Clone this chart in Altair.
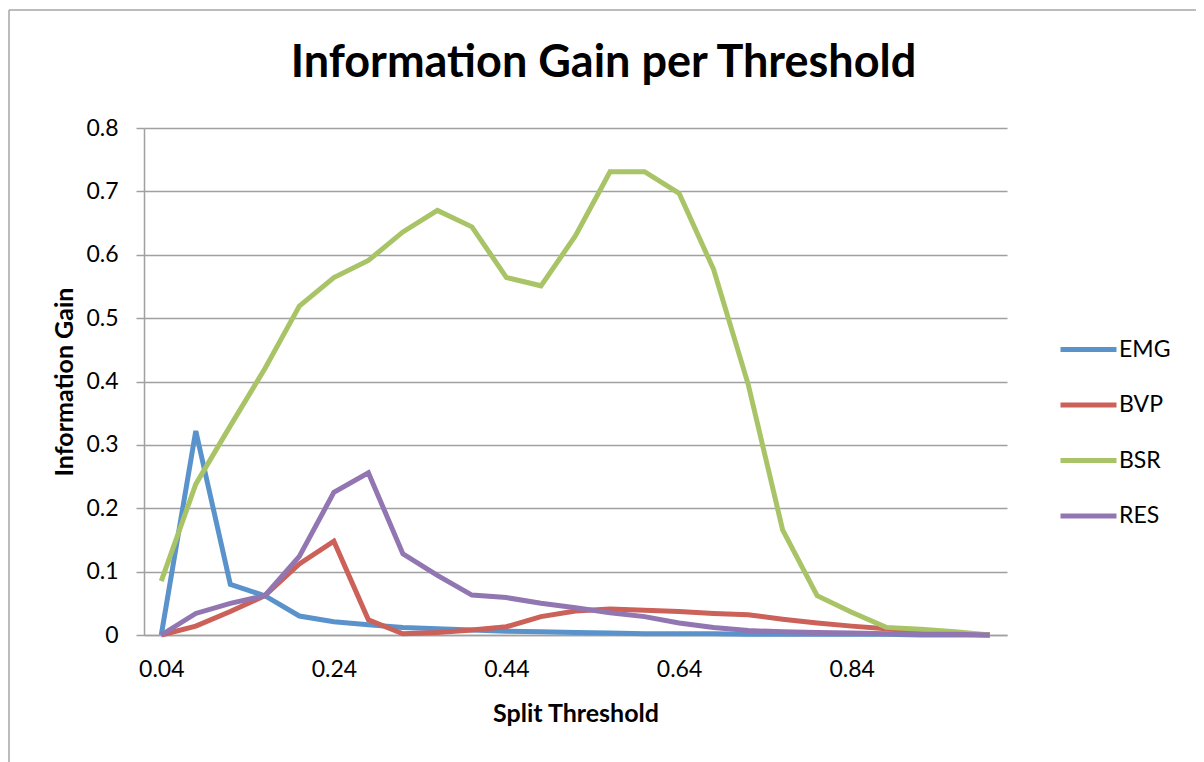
import altair as alt
import pandas as pd

thresholds = ["0.04", "0.08", "0.12", "0.16", "0.20", "0.24", "0.28", "0.32", "0.36",
              "0.40", "0.44", "0.48", "0.52", "0.56", "0.60", "0.64", "0.68", "0.72",
              "0.76", "0.80", "0.84", "0.88", "0.92", "0.96", "1.00"]
tick_labels = ["0.04", "0.24", "0.44", "0.64", "0.84"]

emg = [0.0, 0.322, 0.080, 0.062, 0.030, 0.021, 0.016, 0.012, 0.010, 0.008, 0.006,
       0.005, 0.004, 0.003, 0.002, 0.002, 0.002, 0.001, 0.001, 0.001, 0.001, 0.001,
       0.0, 0.0, 0.0]
bvp = [0.0, 0.014, 0.037, 0.062, 0.112, 0.148, 0.024, 0.002, 0.004, 0.008, 0.013,
       0.029, 0.038, 0.041, 0.039, 0.037, 0.034, 0.032, 0.025, 0.019, 0.014, 0.010,
       0.005, 0.002, 0.0]
bsr = [0.085, 0.238, 0.330, 0.420, 0.519, 0.564, 0.591, 0.636, 0.670, 0.644, 0.564,
       0.551, 0.630, 0.731, 0.731, 0.697, 0.577, 0.396, 0.166, 0.062, 0.036, 0.012,
       0.009, 0.005, 0.0]
res = [0.0, 0.034, 0.050, 0.062, 0.124, 0.225, 0.256, 0.128, 0.094, 0.063, 0.059,
       0.050, 0.043, 0.035, 0.029, 0.019, 0.012, 0.007, 0.005, 0.004, 0.003, 0.002,
       0.001, 0.001, 0.0]

series_names = ["EMG", "BVP", "BSR", "RES"]
series_colors = ["#5A93CB", "#CB6158", "#A8C466", "#9176B2"]

rows = []
for name, vals in zip(series_names, [emg, bvp, bsr, res]):
    for t, v in zip(thresholds, vals):
        rows.append({"threshold": t, "gain": v, "series": name})
df = pd.DataFrame(rows)

FONT = "Lato"
W, H = 863, 507
PAD_L, PAD_T, PAD_R, PAD_B = 136, 120, 189, 127

lines = alt.Chart(df).mark_line(strokeWidth=5, strokeJoin="miter").encode(
    x=alt.X("threshold:O", sort=thresholds,
            scale=alt.Scale(type="point", padding=0.5),
            axis=alt.Axis(values=tick_labels, title="Split Threshold", labelAngle=0,
                          ticks=False, labelPadding=23, titlePadding=20,
                          domainColor="#A0A0A0", domainWidth=1.5,
                          labelFontSize=23, titleFontSize=25, titleFontWeight="bold",
                          labelColor="black", titleColor="black")),
    y=alt.Y("gain:Q", scale=alt.Scale(domain=[0, 0.8]),
            axis=alt.Axis(values=[0, 0.1, 0.2, 0.3, 0.4, 0.5, 0.6, 0.7, 0.8],
                          format="~g", title="Information Gain",
                          tickSize=8, tickColor="#A0A0A0", tickWidth=1.5,
                          labelPadding=18, titlePadding=8,
                          domainColor="#A0A0A0", domainWidth=1.5,
                          grid=True, gridColor="#A0A0A0", gridWidth=1.5,
                          labelFontSize=23, titleFontSize=25, titleFontWeight="bold",
                          labelColor="black", titleColor="black")),
    color=alt.Color("series:N", sort=series_names,
                    scale=alt.Scale(domain=series_names, range=series_colors),
                    legend=alt.Legend(title=None, orient="none", legendX=928, legendY=205,
                                      symbolType="M-2,0L2,0", symbolSize=784,
                                      symbolStrokeWidth=5, rowPadding=26.5,
                                      labelOffset=14, labelFontSize=23,
                                      labelColor="black", padding=0)),
)

border = alt.Chart(pd.DataFrame({"k": [0]})).mark_rule(color="#A6A6A6", strokeWidth=1.5).encode(
    x=alt.value(-135), x2=alt.value(W + PAD_R), y=alt.value(-118)
)
border_left = alt.Chart(pd.DataFrame({"k": [0]})).mark_rule(color="#A6A6A6", strokeWidth=1.5).encode(
    x=alt.value(-135), y=alt.value(-118), y2=alt.value(H + PAD_B)
)

chart = alt.layer(border, border_left, lines).properties(
    width=W, height=H,
    title=alt.TitleParams("Information Gain per Threshold", fontSize=45, font=FONT,
                          fontWeight="bold", color="black", anchor="middle", dx=28,
                          baseline="alphabetic", offset=-113),
    autosize=alt.AutoSizeParams(type="none"),
    padding={"left": PAD_L, "top": PAD_T, "right": PAD_R, "bottom": PAD_B},
).configure(font=FONT).configure_view(stroke=None)

chart.save("out.html", embed_options={"renderer": "svg", "actions": False})
